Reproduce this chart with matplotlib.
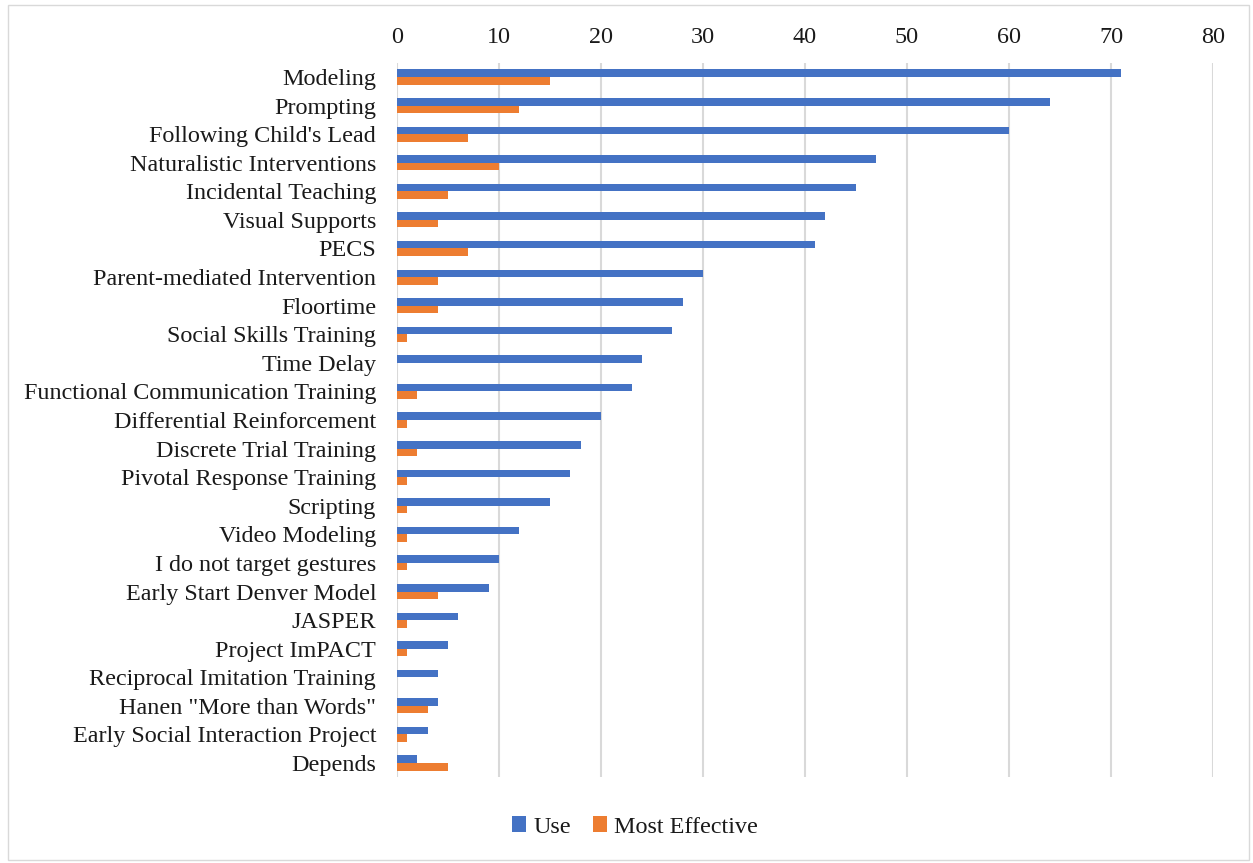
import matplotlib
matplotlib.use("Agg")
import matplotlib.pyplot as plt
import numpy as np
from matplotlib.patches import Rectangle

categories = ["Modeling", "Prompting", "Following Child's Lead", "Naturalistic Interventions",
              "Incidental Teaching", "Visual Supports", "PECS", "Parent-mediated Intervention",
              "Floortime", "Social Skills Training", "Time Delay", "Functional Communication Training",
              "Differential Reinforcement", "Discrete Trial Training", "Pivotal Response Training",
              "Scripting", "Video Modeling", "I do not target gestures", "Early Start Denver Model",
              "JASPER", "Project ImPACT", "Reciprocal Imitation Training", "Hanen \"More than Words\"",
              "Early Social Interaction Project", "Depends"]
use = [71, 64, 60, 47, 45, 42, 41, 30, 28, 27, 24, 23, 20, 18, 17, 15, 12, 10, 9, 6, 5, 4, 4, 3, 2]
most_effective = [15, 12, 7, 10, 5, 4, 7, 4, 4, 1, 0, 2, 1, 2, 1, 1, 1, 1, 4, 1, 1, 0, 3, 1, 5]
xticks = [0, 10, 20, 30, 40, 50, 60, 70, 80]

plt.rcParams['font.family'] = ['Liberation Serif', 'DejaVu Serif']
FS = 17.4

W, H = 1253, 863
fig = plt.figure(figsize=(W/100, H/100), dpi=100)
ax = fig.add_axes([397/W, 1-777.3/H, (1213-397)/W, (777.3-62.7)/H])

y = np.arange(len(categories))
h = 0.265
ax.barh(y - h/2, use, height=h, color='#4472C4', label='Use', zorder=3)
ax.barh(y + h/2, most_effective, height=h, color='#ED7D31', label='Most Effective', zorder=3)

ax.set_ylim(len(categories) - 0.5, -0.5)
ax.set_xlim(0, 80)
ax.set_yticks(y)
ax.set_yticklabels(categories, fontsize=FS, color='#1a1a1a')
ax.set_xticks(xticks)
ax.set_xticklabels([str(t) for t in xticks], fontsize=FS, color='#1a1a1a')
ax.xaxis.tick_top()
ax.tick_params(axis='x', length=0, pad=10.5)
ax.tick_params(axis='y', length=0, pad=15)
ax.grid(axis='x', color='#d9d9d9', linewidth=1.5, zorder=0)
for s in ax.spines.values():
    s.set_visible(False)

fig.legend(loc='center', bbox_to_anchor=(635/W, 1-827/H), ncol=2, frameon=False,
           fontsize=FS, handlelength=0.6, handleheight=0.6, handletextpad=0.3,
           columnspacing=0.9, labelcolor='#1a1a1a')

fig.patches.append(Rectangle((8/W, 3/H), (1249-8)/W, (858-3)/H, transform=fig.transFigure,
                             fill=False, edgecolor='#d9d9d9', linewidth=1))

fig.savefig('out.png', dpi=100)
